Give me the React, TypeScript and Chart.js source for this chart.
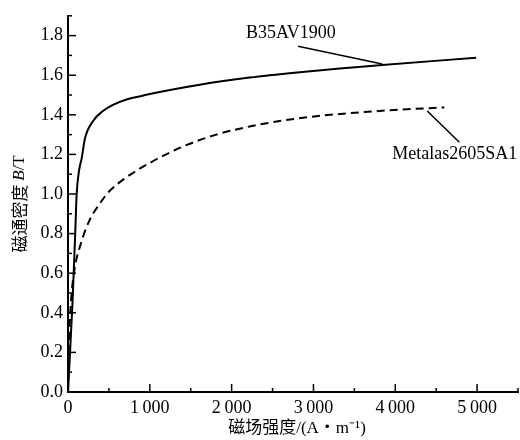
import React, { useEffect, useRef } from "react";
import { Chart, registerables } from "chart.js";

Chart.register(...registerables);

// B35AV1900 (solid)
const hB35 = [0, 55, 88, 106, 134, 167, 207, 309, 431, 549, 716, 898, 1000, 1610, 2220, 2800, 3439, 3841, 4988];
const bB35 = [0, 0.45, 0.8, 1.0, 1.115, 1.18, 1.28, 1.37, 1.42, 1.45, 1.477, 1.495, 1.505, 1.552, 1.588, 1.614, 1.638, 1.652, 1.688];

// Metalas2605SA1 (dashed)
const hMet = [0, 12, 39, 80, 150, 263, 386, 508, 713, 1000, 1406, 1813, 2220, 2626, 3033, 3439, 4049, 4598];
const bMet = [0, 0.25, 0.47, 0.62, 0.74, 0.867, 0.95, 1.015, 1.084, 1.157, 1.24, 1.3, 1.341, 1.371, 1.393, 1.408, 1.426, 1.437];

const xTickValues = [0, 1000, 2000, 3000, 4000, 5000];
const xTickLabels = ["0", "1\u2009000", "2\u2009000", "3\u2009000", "4\u2009000", "5\u2009000"];
const yTickValues = [0, 0.2, 0.4, 0.6, 0.8, 1.0, 1.2, 1.4, 1.6, 1.8];
const yTickLabels = ["0.0", "0.2", "0.4", "0.6", "0.8", "1.0", "1.2", "1.4", "1.6", "1.8"];

const seriesNames = ["B35AV1900", "Metalas2605SA1"];
const xTitleText = "磁场强度/(A・m⁻¹)";
const yTitleParts = ["磁通密度 ", "B", "/T"];

const SERIF = "'Liberation Serif', 'Times New Roman', 'Noto Sans CJK SC', serif";
const CJK = "'Noto Sans CJK SC', 'Liberation Serif', serif";

const decorPlugin = {
  id: "decor",
  afterDraw(chart: any) {
    const ctx = chart.ctx;
    const xs = chart.scales.x;
    const ys = chart.scales.y;
    const area = chart.chartArea;
    ctx.save();
    ctx.strokeStyle = "#000";
    ctx.lineWidth = 1.5;
    // inward ticks, x
    for (let v = 0; v <= 5500; v += 500) {
      const px = xs.getPixelForValue(v);
      const len = v % 1000 === 0 ? 8 : 4;
      ctx.beginPath();
      ctx.moveTo(px, area.bottom);
      ctx.lineTo(px, area.bottom - len);
      ctx.stroke();
    }
    // inward ticks, y
    for (let i = 0; i <= 19; i++) {
      const v = i / 10;
      const py = ys.getPixelForValue(v);
      const len = i % 2 === 0 ? 8 : 4;
      ctx.beginPath();
      ctx.moveTo(area.left, py);
      ctx.lineTo(area.left + len, py);
      ctx.stroke();
    }

    // annotations
    ctx.fillStyle = "#000";
    ctx.lineWidth = 1.5;
    ctx.font = "18px " + SERIF;
    ctx.textBaseline = "middle";
    ctx.textAlign = "center";
    ctx.fillText(seriesNames[0], xs.getPixelForValue(2725), ys.getPixelForValue(1.81));
    ctx.beginPath();
    ctx.moveTo(xs.getPixelForValue(2811), ys.getPixelForValue(1.746));
    ctx.lineTo(xs.getPixelForValue(3840), ys.getPixelForValue(1.657));
    ctx.stroke();

    ctx.textAlign = "left";
    ctx.fillText(seriesNames[1], xs.getPixelForValue(3963), ys.getPixelForValue(1.2));
    ctx.beginPath();
    ctx.moveTo(xs.getPixelForValue(4391), ys.getPixelForValue(1.419));
    ctx.lineTo(xs.getPixelForValue(4783), ys.getPixelForValue(1.261));
    ctx.stroke();

    // x title
    ctx.font = "17px " + SERIF;
    ctx.textAlign = "center";
    ctx.fillText(xTitleText, (area.left + area.right) / 2 + 4, 429);

    // y title (rotated, mixed fonts)
    const fonts = ["17px " + CJK, "italic 17px " + SERIF, "17px " + SERIF];
    const widths = yTitleParts.map((t, i) => {
      ctx.font = fonts[i];
      return ctx.measureText(t).width;
    });
    const total = widths.reduce((a, b) => a + b, 0);
    ctx.translate(20, (area.top + area.bottom) / 2);
    ctx.rotate(-Math.PI / 2);
    ctx.textAlign = "left";
    let cx = -total / 2;
    yTitleParts.forEach((t, i) => {
      ctx.font = fonts[i];
      ctx.fillText(t, cx, 0);
      cx += widths[i];
    });
    ctx.restore();
  },
};

export default function App() {
  const ref = useRef<HTMLCanvasElement | null>(null);
  useEffect(() => {
    if (!ref.current) return;
    const chart = new Chart(ref.current, {
      type: "line",
      data: {
        datasets: [
          {
            label: seriesNames[0],
            data: hB35.map((h, i) => ({ x: h, y: bB35[i] })),
            borderColor: "#000",
            borderWidth: 2,
            pointRadius: 0,
            cubicInterpolationMode: "monotone",
            fill: false,
          },
          {
            label: seriesNames[1],
            data: hMet.map((h, i) => ({ x: h, y: bMet[i] })),
            borderColor: "#000",
            borderWidth: 2,
            borderDash: [8, 5],
            pointRadius: 0,
            cubicInterpolationMode: "monotone",
            fill: false,
          },
        ],
      },
      options: {
        animation: false,
        responsive: false,
        events: [],
        layout: { padding: { left: 0, top: 8, right: 2, bottom: 0 } },
        plugins: { legend: { display: false }, tooltip: { enabled: false } },
        scales: {
          x: {
            type: "linear",
            min: 0,
            max: 5500,
            grid: { display: false, drawTicks: false },
            border: { display: true, color: "#000", width: 2 },
            afterBuildTicks: (s: any) => {
              s.ticks = xTickValues.map((v) => ({ value: v }));
            },
            afterFit: (s: any) => {
              s.height = 48;
            },
            ticks: {
              padding: 5,
              color: "#000",
              font: { family: SERIF, size: 18 },
              maxRotation: 0,
              autoSkip: false,
              callback: (v: any) => {
                const i = xTickValues.indexOf(Number(v));
                return i >= 0 ? xTickLabels[i] : "";
              },
            },
          },
          y: {
            type: "linear",
            min: 0,
            max: 1.9,
            grid: { display: false, drawTicks: false },
            border: { display: true, color: "#000", width: 2 },
            afterBuildTicks: (s: any) => {
              s.ticks = yTickValues.map((v) => ({ value: v }));
            },
            afterFit: (s: any) => {
              s.width = 68;
            },
            ticks: {
              padding: 5,
              color: "#000",
              font: { family: SERIF, size: 18 },
              autoSkip: false,
              callback: (v: any) => {
                const i = yTickValues.findIndex((t) => Math.abs(t - Number(v)) < 1e-6);
                return i >= 0 ? yTickLabels[i] : "";
              },
            },
          },
        },
      } as any,
      plugins: [decorPlugin],
    });
    return () => chart.destroy();
  }, []);
  return (
    <div style={{ position: "absolute", left: 0, top: 0, width: 520, height: 440, background: "#fff" }}>
      <canvas ref={ref} width={520} height={440} style={{ display: "block" }} />
    </div>
  );
}
